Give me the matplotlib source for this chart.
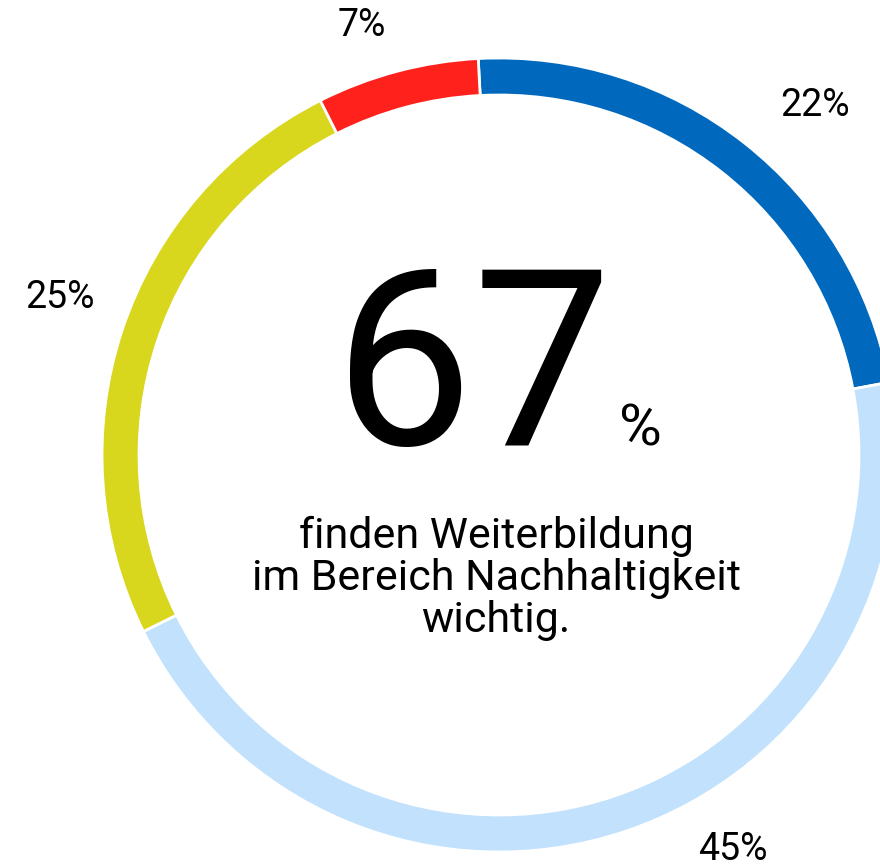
import matplotlib.pyplot as plt

# share of respondents per answer (clockwise from the top);
categories = ["sehr wichtig", "eher wichtig", "eher unwichtig", "unwichtig"]
values = [22.9, 45.6, 24.9, 6.6]
labels = ["22%", "45%", "25%", "7%"]
colors = ["#0069be", "#c1e1fc", "#d8d71e", "#ff211b"]

headline = "67"
headline_unit = "%"
subtitle = ["finden Weiterbildung", "im Bereich Nachhaltigkeit", "wichtig."]

W, H = 880, 868            # canvas in pixels, used as data units
cx, cy = 499, H - 455      # ring centre
r_out, ring_w = 397, 37

# where the percentage labels sit (pixel coordinates)
label_pos = [(815, 105), (733, 850), (60, 298), (362, 25)]

plt.rcParams['font.family'] = ['Roboto', 'DejaVu Sans']

fig = plt.figure(figsize=(W / 100, H / 100), dpi=100)
ax = fig.add_axes([0, 0, 1, 1])

ax.pie(values, colors=colors, startangle=93, counterclock=False,
       center=(cx, cy), radius=r_out,
       wedgeprops=dict(width=ring_w, edgecolor='white', linewidth=2))

for lab, (x, y) in zip(labels, label_pos):
    ax.text(x, H - y, lab, fontsize=27, ha='center', va='center', color='black')

ax.text(473, H - 445, headline, fontsize=178,
        ha='center', va='baseline', color='black')
ax.text(640, H - 445, headline_unit, fontsize=42,
        ha='center', va='baseline', color='black')

for i, line in enumerate(subtitle):
    ax.text(496, H - (548 + 42 * i), line, fontsize=31,
            ha='center', va='baseline', color='black')

ax.set_xlim(0, W)
ax.set_ylim(0, H)
ax.set_aspect('equal')
ax.axis('off')

fig.savefig('out.png', dpi=100)
